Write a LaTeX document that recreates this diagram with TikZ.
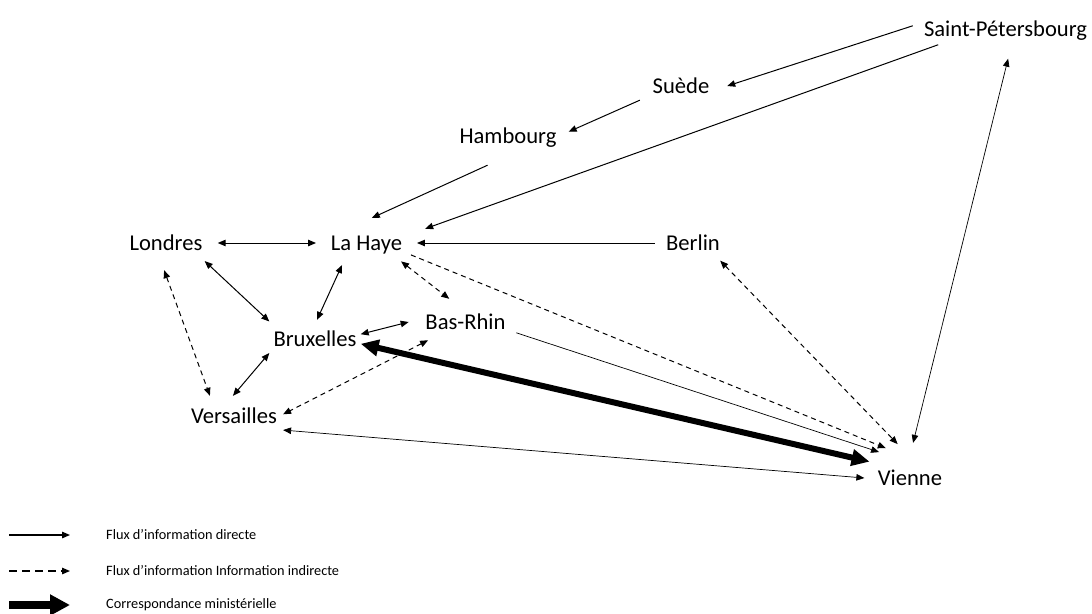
\documentclass[tikz,border=0pt]{standalone}
\usepackage{fontspec}
\setmainfont{Carlito}
\usetikzlibrary{arrows.meta,shapes.geometric}
\newcommand{\cityfont}{\fontsize{22.6pt}{27pt}\selectfont}
\newcommand{\legendfont}{\fontsize{14.3pt}{17pt}\selectfont}
\tikzset{
    city/.style={
    font=\cityfont,text height=18.5pt,text depth=3.5pt
    },
    ecity/.style={
    city,ellipse,inner sep=0pt
    },
    rcity/.style={
    city,rectangle,inner xsep=6pt,inner ysep=8pt
    },
    direct/.style={
    line width=1pt,-{Triangle[length=8pt,width=6.5pt]}
    },
    bidirect/.style={
    line width=1pt,{Triangle[length=8pt,width=6.5pt]}-{Triangle[length=8pt,width=6.5pt]}
    },
    thindirect/.style={
    line width=0.7pt,-{Triangle[length=8pt,width=6.5pt]}
    },
    thinbidirect/.style={
    line width=0.7pt,{Triangle[length=8pt,width=6.5pt]}-{Triangle[length=8pt,width=6.5pt]}
    },
    indirect/.style={
    direct,dash pattern=on 5pt off 4pt
    },
    biindirect/.style={
    bidirect,dash pattern=on 5pt off 4pt
    },
    ministry/.style={
    line width=6pt,{Triangle[length=18pt,width=16pt]}-{Triangle[length=18pt,width=16pt]}
    },
    legendtext/.style={
    font=\legendfont,anchor=west,inner sep=0pt
    },
}
\begin{document}
\begin{tikzpicture}[x=1pt,y=-1pt]
   \useasboundingbox (0,0) rectangle (1092,613);

   %cities
   \node[rcity,inner xsep=11pt,inner ysep=18.5pt] (stp) at (1005.5,29) {Saint-Pétersbourg};
   \node[ecity,minimum width=92pt,minimum height=62pt] (suede) at (681,86) {Suède};
   \node[rcity,inner xsep=12pt,inner ysep=18pt] (hambourg) at (508,136) {Hambourg};
   \node[ecity,minimum height=54pt] (londres) at (166,243) {Londres};
   \node[ecity,minimum width=100pt,minimum height=50pt] (lahaye) at (366.5,243) {La Haye};
   \node[ecity,minimum height=50pt] (berlin) at (693,243) {Berlin};
   \node[ecity,minimum height=48pt] (basrhin) at (465.5,322) {Bas-Rhin};
   \node[rcity,inner xsep=4pt,inner ysep=8pt] (bruxelles) at (315,339) {Bruxelles};
   \node[rcity,inner ysep=9pt] (versailles) at (234,416) {Versailles};
   \node[ecity,minimum height=70pt] (vienne) at (910,478) {Vienne};

   %direct flows
   \path
    (stp.178) edge[direct] (suede.east)
    (stp.195) edge[direct,shorten <=-27pt,shorten >=13pt] (lahaye.12)
    (suede.199) edge[direct] (hambourg.4)
    (hambourg.235) edge[direct] (lahaye.78)
    (berlin.west) edge[direct] (lahaye.east)
    (londres.east) edge[bidirect] (lahaye.west)
    (londres.335) edge[bidirect] (bruxelles.159)
    (lahaye.222) edge[bidirect] (bruxelles.84)
    (bruxelles.6) edge[bidirect] (basrhin.west)
    (bruxelles.197) edge[bidirect] (versailles.93)
    (basrhin.348) edge[thindirect] (vienne.140)
    (versailles.344) edge[thinbidirect] (vienne.west)
    (vienne.85) edge[thinbidirect] (stp.275);

   %indirect flows
   \path
    (lahaye.332) edge[biindirect] (basrhin.125)
    (londres.266) edge[biindirect] (versailles.140)
    (basrhin.206) edge[biindirect] (versailles.2)
    (lahaye.345) edge[indirect] (vienne.129)
    (berlin.327) edge[biindirect] (vienne.110);

   %ministerial correspondence
   \path (bruxelles.354) edge[ministry] (vienne.158);

   %legend
   \coordinate (ldirs) at (9,535);
   \coordinate (ldire) at (70,535);
   \coordinate (linds) at (9,571);
   \coordinate (linde) at (70,571);
   \coordinate (lmins) at (9,605);
   \coordinate (lmine) at (70,605);
   \draw[direct,line width=1.3pt] (ldirs) -- (ldire);
   \draw[indirect,line width=1.3pt,dash pattern=on 8pt off 5pt] (linds) -- (linde);
   \draw[line width=8pt,-{Triangle[length=20pt,width=20pt]}] (lmins) -- (lmine);
   \node[legendtext] (tdir) at (106,535) {Flux d’information directe};
   \node[legendtext] (tind) at (106,571) {Flux d’information Information indirecte};
   \node[legendtext] (tmin) at (106,605) {Correspondance ministérielle};
\end{tikzpicture}
\end{document}
